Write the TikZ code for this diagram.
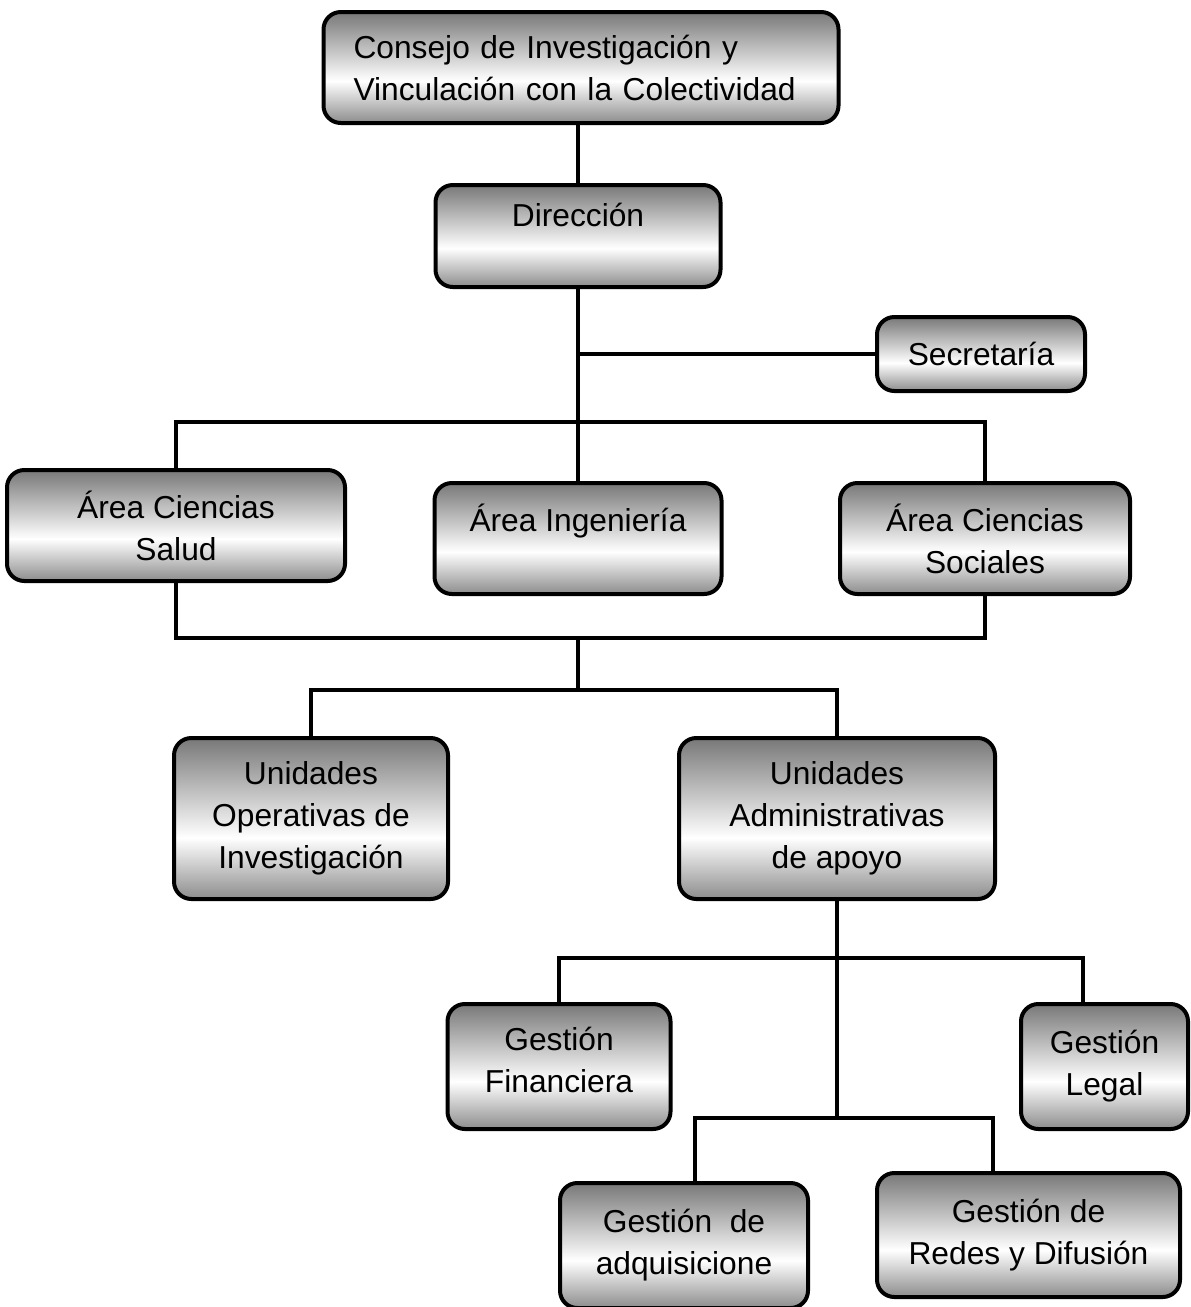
\documentclass[tikz,border=0pt]{standalone}
\usepackage{fontspec}
\setmainfont{Liberation Sans}
\usetikzlibrary{positioning,calc}
\pgfdeclareverticalshading{orgshade}{100bp}{color(0bp)=(black!45); color(25bp)=(black!45); color(44bp)=(white); color(75bp)=(black!53); color(100bp)=(black!53)}
\tikzset{
	orgbox/.style={rectangle, draw=black, line width=3pt, rounded corners=13pt, shading=orgshade,
		inner sep=0pt, align=center, font=\fontsize{23.8}{31.5}\selectfont},
	bx/.style 2 args={minimum width=#1*0.75pt, minimum height=#2*0.75pt},
	orgline/.style={line width=2.3pt}
}

\begin{document}
\begin{tikzpicture}[x=0.75pt, y=-0.75pt]
	\useasboundingbox (0,0) rectangle (1190,1307);
	\node[orgbox, bx={515}{111}, align=left, text width=455*0.75pt, inner xsep=30*0.75pt] (consejo) at (581,67.5) {Consejo de Investigación y\\Vinculación con la Colectividad};
	\node[orgbox, bx={285}{102}] (dir) at (578,236) {Dirección\\\mbox{}};
	\node[orgbox, bx={208}{74}] (sec) at (981,354) {Secretaría};
	\node[orgbox, bx={338}{111}] (salud) at (176,525.5) {Área Ciencias\\Salud};
	\node[orgbox, bx={287}{111}] (ing) at (578,538.5) {Área Ingeniería\\\mbox{}};
	\node[orgbox, bx={290}{111}] (soc) at (985,538.5) {Área Ciencias\\Sociales};
	\node[orgbox, bx={274}{161}] (uop) at (311,818.5) {Unidades\\Operativas de\\Investigación};
	\node[orgbox, bx={316}{161}] (uadm) at (837,818.5) {Unidades\\Administrativas\\de apoyo};
	\node[orgbox, bx={223}{125}] (gfin) at (559,1066.5) {Gestión\\Financiera\strut};
	\node[orgbox, bx={167}{125}] (gleg) at (1104.5,1066.5) {Gestión\\Legal};
	\node[orgbox, bx={248}{125}] (gadq) at (684,1245.5) {Gestión~~de\\adquisicione};
	\node[orgbox, bx={303}{124}] (gred) at (1028.5,1235) {Gestión de\\Redes y Difusión};
	% buses
	\coordinate (b1) at (578,422);
	\coordinate (b2) at (578,638);
	\coordinate (b3) at (578,690);
	\coordinate (b4) at (837,958);
	\coordinate (b5) at (837,1118);
	\draw[orgline] (consejo.south -| dir.north) -- (dir);
	\draw[orgline] (dir) -- (ing);
	\draw[orgline] (sec) -- (sec -| dir);
	\draw[orgline] (salud) |- (b1) -| (soc);
	\draw[orgline] (salud) |- (b2) -| (soc);
	\draw[orgline] (b2) -- (b3);
	\draw[orgline] (uop) |- (b3) -| (uadm);
	\draw[orgline] (uadm) -- (b5);
	\draw[orgline] (gfin) |- (b4) -| ($(gleg.north)+(-21.5,0)$);
	\draw[orgline] ($(gadq.north)+(11,0)$) |- (b5) -| ($(gred.north)+(-35.5,0)$);
\end{tikzpicture}
\end{document}
